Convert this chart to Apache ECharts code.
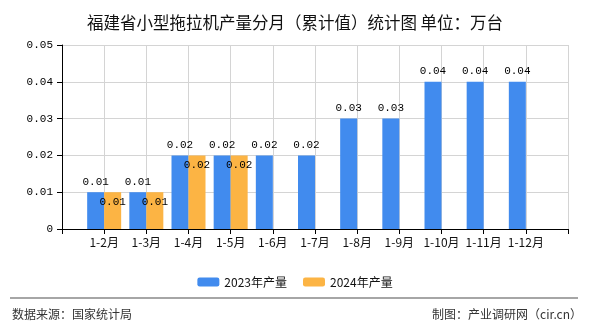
<!DOCTYPE html>
<html>
<head>
<meta charset="utf-8">
<script src="https://cdn.jsdelivr.net/npm/echarts@6/dist/echarts.min.js"></script>
<style>
html,body{margin:0;padding:0;background:#fff;}
#c{width:590px;height:330px;}
</style>
</head>
<body>
<div id="c"></div>
<script>
const categories = ['1-2月','1-3月','1-4月','1-5月','1-6月','1-7月','1-8月','1-9月','1-10月','1-11月','1-12月'];
const values2023 = [0.01,0.01,0.02,0.02,0.02,0.02,0.03,0.03,0.04,0.04,0.04];
const values2024 = [0.01,0.01,0.02,0.02,null,null,null,null,null,null,null];
const seriesNames = ['2023年产量','2024年产量'];
const yTicks = [0,0.01,0.02,0.03,0.04,0.05];

// pad with empty slots at both ends (the reference axis has an empty position at each edge)
const axisCats = [''].concat(categories, ['']);
const pad = arr => [null].concat(arr, [null]);

const numFont = '"Liberation Mono", monospace';
const cjkFont = '"Noto Sans CJK SC", sans-serif';

const chart = echarts.init(document.getElementById('c'), null, {renderer:'canvas'});
chart.setOption({
  animation:false,
  backgroundColor:'#fff',
  title:{
    text:'福建省小型拖拉机产量分月（累计值）统计图 单位：万台',
    left:'center', top:9,
    textStyle:{fontFamily:cjkFont, fontSize:16.5, fontWeight:'normal', color:'#111'}
  },
  legend:{
    data:seriesNames,
    left:'center', top:271,
    itemWidth:22, itemHeight:9, itemGap:16,
    textStyle:{fontFamily:cjkFont, fontSize:12, color:'#111'}
  },
  grid:{left:62, right:22, top:45, bottom:101, containLabel:false},
  xAxis:{
    type:'category',
    data:axisCats,
    boundaryGap:false,
    axisLine:{lineStyle:{color:'#000', width:1}},
    axisTick:{show:true, length:5, lineStyle:{color:'#000'}, alignWithLabel:true},
    axisLabel:{fontFamily:cjkFont, fontSize:12, color:'#111', margin:7, interval:0},
    splitLine:{show:true, lineStyle:{color:'#d4d4d4', width:1}}
  },
  yAxis:{
    type:'value',
    min:yTicks[0], max:yTicks[yTicks.length-1], interval:0.01,
    axisLine:{show:true, lineStyle:{color:'#000', width:1}},
    axisTick:{show:true, length:5, lineStyle:{color:'#000'}},
    axisLabel:{fontFamily:numFont, fontSize:11, color:'#000', margin:9,
      formatter:v => v === 0 ? '0' : v.toFixed(2)},
    splitLine:{show:true, lineStyle:{color:'#d4d4d4', width:1}}
  },
  series:[
    {
      name:seriesNames[0], type:'bar', data:pad(values2023),
      barWidth:17, barGap:'0%',
      itemStyle:{color:'#418bee'},
      label:{show:true, position:'top', distance:5, fontFamily:numFont, fontSize:11, color:'#000',
        formatter:p => p.value == null ? '' : p.value.toFixed(2)}
    },
    {
      name:seriesNames[1], type:'bar', data:pad(values2024),
      barWidth:17, barGap:'0%',
      itemStyle:{color:'#fcb444'},
      label:{show:true, position:'insideTop', distance:4, fontFamily:numFont, fontSize:11, color:'#000',
        formatter:p => p.value == null ? '' : p.value.toFixed(2)}
    }
  ],
  graphic:[
    {type:'line', shape:{x1:10, y1:298, x2:578, y2:298}, style:{stroke:'#888', lineWidth:1.5}},
    {type:'text', left:12, top:308, style:{text:'数据来源：国家统计局', font:'12px "Noto Sans CJK SC", sans-serif', fill:'#333'}},
    {type:'text', right:8, top:308, style:{text:'制图：产业调研网（cir.cn）', font:'12px "Noto Sans CJK SC", sans-serif', fill:'#333'}}
  ]
});
</script>
</body>
</html>
